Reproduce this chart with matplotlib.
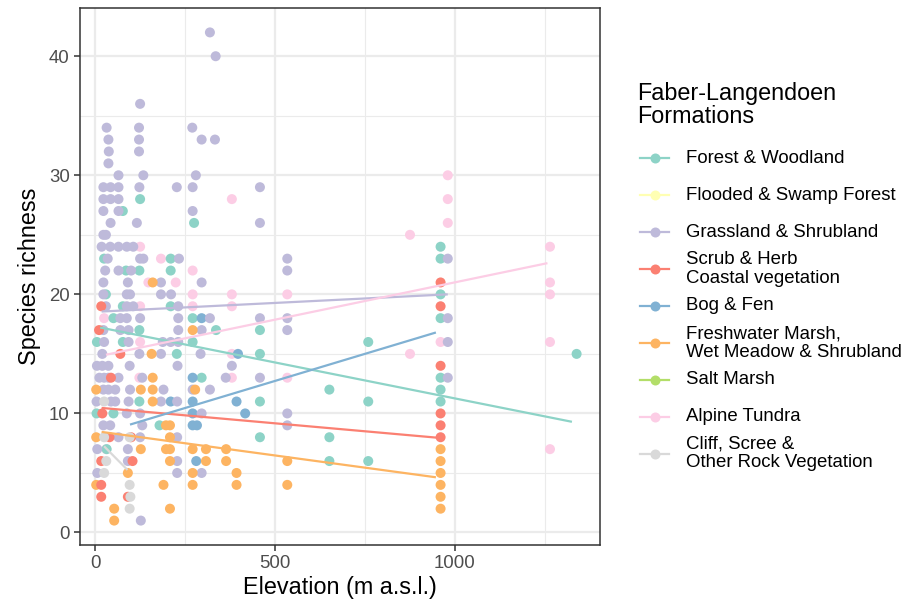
import matplotlib
matplotlib.use("Agg")
import matplotlib.pyplot as plt
from matplotlib.lines import Line2D
import numpy as np

plt.rcParams['font.family'] = ['Liberation Sans', 'DejaVu Sans']

# ---------------- data ----------------
groups = ["Forest & Woodland", "Flooded & Swamp Forest", "Grassland & Shrubland",
          "Scrub & Herb\nCoastal vegetation", "Bog & Fen",
          "Freshwater Marsh,\nWet Meadow & Shrubland", "Salt Marsh",
          "Alpine Tundra", "Cliff, Scree &\nOther Rock Vegetation"]
colors = ["#8DD3C7", "#FFFFB3", "#BEBADA", "#FB8072", "#80B1D3",
          "#FDB462", "#B3DE69", "#FCCDE5", "#D9D9D9"]

forest_x = [125, 77, 275, 25, 210, 86, 123, 210, 30, 77, 210, 51, 271, 123, 336, 5, 77, 271,
            227, 296, 123, 4, 51, 179, 32, 458, 458, 458, 458, 651, 651, 651, 759, 759, 759,
            960, 960, 960, 960, 960, 960, 960, 1338]
forest_y = [28, 27, 26, 23, 23, 22, 22, 22, 20, 19, 19, 18, 18, 17, 17, 16, 16, 16,
            15, 13, 11, 10, 10, 9, 7, 17, 15, 11, 8, 12, 8, 6, 16, 11, 6,
            24, 23, 20, 18, 13, 12, 11, 15]

grass_x = [319, 335, 125, 32, 122, 270, 37, 122, 296, 333, 38, 122, 37, 65, 134, 280,
           23, 43, 65, 123, 227, 271, 458, 23, 43, 65, 23, 65, 271, 43, 116, 458, 23, 30,
           18, 42, 65, 88, 106, 35, 125, 134, 233, 534, 980, 28, 65, 100, 534,
           23, 91, 183, 296, 23, 88, 97, 183, 211, 30, 88, 106, 231,
           70, 88, 125, 231, 319, 458, 534, 980, 23, 70, 93, 231, 296, 534,
           25, 93, 188, 210, 231, 980, 20, 123, 183, 293, 5, 20, 37, 96, 229, 380,
           12, 25, 37, 65, 131, 363, 458, 980, 23, 37, 56, 97, 190, 271, 319,
           4, 44, 56, 93, 183, 228, 88, 125, 296, 534, 23, 42, 131, 534,
           65, 125, 228, 6, 91, 91, 228, 6, 228, 296, 127]
grass_y = [42, 40, 36, 34, 34, 34, 33, 33, 33, 33, 32, 32, 31, 30, 30, 30,
           29, 29, 29, 29, 29, 29, 29, 28, 28, 28, 27, 27, 27, 26, 26, 26, 25, 25,
           24, 24, 24, 24, 24, 23, 23, 23, 23, 23, 23, 22, 22, 22, 22,
           21, 21, 21, 21, 20, 20, 20, 20, 20, 19, 19, 19, 19,
           18, 18, 18, 18, 18, 18, 18, 18, 17, 17, 17, 17, 17, 17,
           16, 16, 16, 16, 16, 16, 15, 15, 15, 15, 14, 14, 14, 14, 14, 14,
           13, 13, 13, 13, 13, 13, 13, 13, 12, 12, 12, 12, 12, 12, 12,
           11, 11, 11, 11, 11, 11, 10, 10, 10, 10, 9, 9, 9, 9,
           8, 8, 8, 7, 7, 6, 6, 5, 5, 5, 1]

scrub_x = [17, 11, 70, 44, 20, 40, 100, 17, 104, 17, 17, 91, 960, 960, 960, 960, 960, 960]
scrub_y = [19, 17, 15, 13, 10, 8, 8, 6, 6, 4, 3, 3, 21, 19, 14, 10, 9, 8]

bog_x = [296, 397, 271, 210, 271, 393, 271, 417, 271, 283, 281]
bog_y = [18, 15, 13, 11, 11, 11, 10, 10, 9, 9, 6]

fresh_x = [160, 157, 271, 160, 3, 127, 160, 278, 160, 197, 208, 3, 208, 127, 197, 208, 271,
           308, 364, 208, 308, 364, 91, 271, 393, 3, 190, 271, 393, 53, 208, 53, 534, 534,
           960, 960, 960, 960, 960, 960]
fresh_y = [21, 15, 17, 13, 12, 12, 12, 12, 11, 9, 9, 8, 8, 7, 7, 7, 7,
           7, 7, 6, 6, 6, 5, 5, 5, 4, 4, 4, 4, 2, 2, 1, 6, 4,
           7, 6, 5, 4, 3, 2]

alpine_x = [380, 125, 183, 271, 148, 224, 271, 380, 125, 271, 380, 25, 125, 380, 123, 380,
            534, 534, 875, 875, 980, 980, 980, 960, 1264, 1264, 1264, 1264, 1264, 31]
alpine_y = [28, 24, 23, 22, 21, 21, 20, 20, 19, 19, 19, 18, 16, 15, 13, 13,
            20, 13, 25, 15, 30, 28, 26, 16, 24, 21, 20, 16, 7, 7]

cliff_x = [25, 25, 25, 31, 96, 96, 96, 98]
cliff_y = [11, 8, 5, 6, 8, 4, 2, 3]

# fitted linear trends: group index, x-range, intercept, slope
fit_group = [0, 2, 3, 4, 5, 7, 8]
fit_x0 = [14, 18, 18, 97, 18, 30, 25]
fit_x1 = [1325, 980, 960, 947, 947, 1257, 90]
fit_b0 = [17.3, 18.53, 10.51, 8.18, 8.52, 14.74, 8.0]
fit_b1 = [-0.00604, 0.0015, -0.00268, 0.0091, -0.0041, 0.00627, -0.0305]

x_ticks = [0, 500, 1000]
y_ticks = [0, 10, 20, 30, 40]

# ---------------- figure ----------------
W, H = 917, 600
fig = plt.figure(figsize=(W / 100, H / 100), dpi=100)
ax = fig.add_axes([80 / W, 1 - 545 / H, 520 / W, 537 / H])

series = {0: (forest_x, forest_y), 2: (grass_x, grass_y), 3: (scrub_x, scrub_y),
          4: (bog_x, bog_y), 5: (fresh_x, fresh_y), 7: (alpine_x, alpine_y),
          8: (cliff_x, cliff_y)}
order = [7, 0, 4, 2, 5, 3, 8]
for gi in order:
    xs, ys = series[gi]
    ax.scatter(xs, ys, s=52, color=colors[gi], edgecolors='none', zorder=3)

for gi, x0, x1, b0, b1 in zip(fit_group, fit_x0, fit_x1, fit_b0, fit_b1):
    xx = np.array([x0, x1], dtype=float)
    ax.plot(xx, b0 + b1 * xx, color=colors[gi], lw=1.6, zorder=4, solid_capstyle='butt')

ax.set_xlim(-42, 1403)
ax.set_ylim(-1.05, 44.05)
ax.set_xticks(x_ticks)
ax.set_yticks(y_ticks)
ax.set_xticks([250, 750, 1250], minor=True)
ax.set_yticks([5, 15, 25, 35], minor=True)
ax.grid(which='major', color='#EBEBEB', lw=1.6, zorder=0)
ax.grid(which='minor', color='#EBEBEB', lw=0.8, zorder=0)
ax.set_axisbelow(True)
for sp in ax.spines.values():
    sp.set_color('#333333')
    sp.set_linewidth(1.1)
ax.tick_params(which='major', length=4.2, width=1.1, color='#333333',
               labelsize=13.4, labelcolor='#4D4D4D', pad=3.2)
ax.tick_params(which='minor', length=0)
ax.set_xlabel("Elevation (m a.s.l.)", fontsize=16.8, labelpad=3)
ax.set_ylabel("Species richness", fontsize=16.8, labelpad=6)

# ---------------- legend ----------------
fig.text(637 / W, 1 - 105 / H, "Faber-Langendoen\nFormations", fontsize=16.8,
         ha='left', va='center', linespacing=1.02)
for i, (lab, col) in enumerate(zip(groups, colors)):
    yc = 1 - (158.3 + 36.9 * i) / H
    fig.add_artist(Line2D([640 / W, 669 / W], [yc, yc], color=col, lw=1.6,
                          transform=fig.transFigure))
    fig.add_artist(Line2D([655 / W], [yc], color=col, marker='o', markersize=7.2,
                          markeredgewidth=0, transform=fig.transFigure))
    fig.text(685.7 / W, yc, lab, fontsize=13.4, ha='left', va='center', linespacing=1.12)

fig.savefig("out.png", dpi=100)
